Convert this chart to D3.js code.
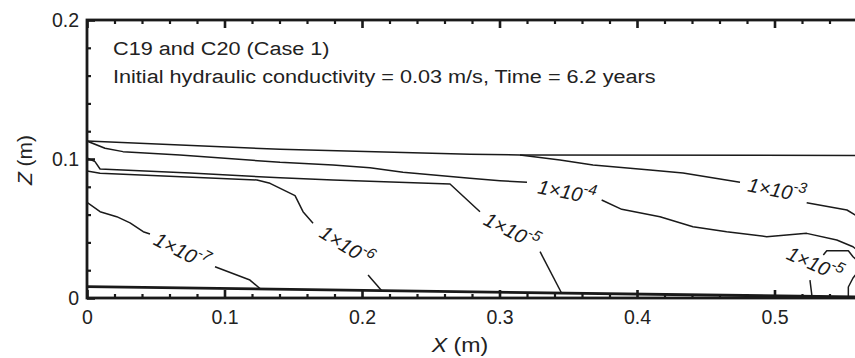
<!DOCTYPE html>
<html>
<head>
<meta charset="utf-8">
<script src="https://cdn.jsdelivr.net/npm/d3@7"></script>
<style>
  html, body { margin: 0; padding: 0; background: #fff; overflow: hidden; }
  svg { display: block; font-family: "Liberation Sans", Arial, Helvetica, sans-serif; }
</style>
</head>
<body>
<svg id="chart" width="855" height="358"></svg>
<script>
// Axis ticks
const xTicks = [0, 0.1, 0.2, 0.3, 0.4, 0.5];
const zTicks = [0, 0.1, 0.2];
const xMinorStep = 0.02;
const zMinorStep = 0.02;

// Annotation text
const titleLines = ["C19 and C20 (Case 1)", "Initial hydraulic conductivity = 0.03 m/s, Time = 6.2 years"];

// Contour lines, [x, z] in metres, one array per drawn piece (gaps hold labels)
const level7a = [[0, 0.0688], [0.0095, 0.0621], [0.0216, 0.0585], [0.0313, 0.0540], [0.0409, 0.0477], [0.0458, 0.0460]];
const level7b = [[0.0931, 0.0225], [0.1185, 0.0129], [0.1258, 0.0068]];
const level6a = [[0, 0.0914], [0.0095, 0.0897], [0.1236, 0.0849], [0.1331, 0.0825], [0.1513, 0.0736], [0.1571, 0.0621], [0.1644, 0.0537]];
const level6b = [[0.2044, 0.0165], [0.2145, 0.0050]];
const level5a = [[0, 0.1007], [0.0058, 0.0981], [0.0095, 0.0928], [0.0749, 0.0899], [0.1404, 0.0865], [0.1789, 0.0849], [0.2640, 0.0820], [0.2858, 0.0621]];
const level5b = [[0.3295, 0.0333], [0.3452, 0.0034]];
const level5c = [[0.5258, 0.0129], [0.5273, 0.0007]];
const level5d = [[0.5355, 0.0309], [0.5380, 0.0340], [0.5537, 0.0340], [0.5571, 0.0297], [0.56, 0.0270]];
const level5e = [[0.56, 0.0180], [0.5571, 0.0144], [0.5537, 0.0079], [0.5537, 0.0007]];
const level4a = [[0, 0.1129], [0.0131, 0.1077], [0.0262, 0.1053], [0.0676, 0.1029], [0.1404, 0.0976], [0.1789, 0.0957],
                 [0.2058, 0.0937], [0.2298, 0.0904], [0.2785, 0.0861], [0.3004, 0.0844], [0.3200, 0.0832]];
const level4b = [[0.3743, 0.0705], [0.3889, 0.0638], [0.4167, 0.0585], [0.4407, 0.0513], [0.4652, 0.0477], [0.4943, 0.0441],
                 [0.5234, 0.0465], [0.5453, 0.0417], [0.5571, 0.0369], [0.56, 0.0345]];
const level3a = [[0.3149, 0.1029], [0.3440, 0.0993], [0.3680, 0.0957], [0.4095, 0.0921], [0.4335, 0.0899], [0.4749, 0.0832]];
const level3b = [[0.5234, 0.0686], [0.5527, 0.0633], [0.56, 0.0590]];
const upperBoundary = [[0, 0.1129], [0.1404, 0.1070], [0.2785, 0.1034], [0.3149, 0.1029], [0.56, 0.1025]];
const lowerBoundary = [[0, 0.0082], [0.56, 0.0007]];

// Contour labels: exponent of 1x10^n, position (m) and text angle (deg)
const labelExp   = [-7, -6, -5, -4, -3, -5];
const labelX     = [0.0691, 0.1891, 0.3091, 0.3491, 0.5018, 0.5295];
const labelZ     = [0.0345, 0.0381, 0.0489, 0.0770, 0.0784, 0.0252];
const labelAngle = [27, 32, 27, 11, 11, 24];

const contourPieces = [level7a, level7b, level6a, level6b, level5a, level5b, level5c, level5d, level5e,
                       level4a, level4b, level3a, level3b, upperBoundary];

// Layout
const width = 855, height = 358;
const margin = {top: 20, right: -2, bottom: 60, left: 87};
const ink = "#1a1a1a";

const svg = d3.select("#chart");

const x = d3.scaleLinear().domain([0, 0.56]).range([margin.left, width - margin.right]);
const z = d3.scaleLinear().domain([0, 0.2]).range([height - margin.bottom, margin.top]);

const line = d3.line().x(d => x(d[0])).y(d => z(d[1]));

// clip to plot area
svg.append("clipPath").attr("id", "plotClip")
  .append("rect")
    .attr("x", x(0)).attr("y", z(0.2))
    .attr("width", x(0.56) - x(0)).attr("height", z(0) - z(0.2));

const plot = svg.append("g").attr("clip-path", "url(#plotClip)");

plot.append("g")
  .selectAll("path")
  .data(contourPieces)
  .join("path")
    .attr("d", line)
    .attr("fill", "none")
    .attr("stroke", ink)
    .attr("stroke-width", 1.5)
    .attr("stroke-linejoin", "round");

plot.append("path")
  .datum(lowerBoundary)
  .attr("d", line)
  .attr("fill", "none")
  .attr("stroke", ink)
  .attr("stroke-width", 2.8);

// Contour labels
plot.append("g")
  .selectAll("text")
  .data(d3.range(labelExp.length))
  .join("text")
    .attr("transform", i => `translate(${x(labelX[i])},${z(labelZ[i])}) rotate(${labelAngle[i]})`)
    .attr("text-anchor", "middle")
    .attr("dy", "0.4em")
    .attr("fill", ink)
    .style("font-style", "italic")
    .style("font-size", "20px")
    .call(t => {
      t.append("tspan").text("1×10");
      t.append("tspan")
        .attr("dy", "-0.6em")
        .style("font-size", "15px")
        .text(i => labelExp[i]);
    });

// Axes: inward ticks, major and minor
const isMajor = v => Math.abs(v * 10 - Math.round(v * 10)) < 1e-6;
const xMinor = d3.range(0, 0.5601, xMinorStep).filter(v => !isMajor(v));
const zMinor = d3.range(0, 0.2001, zMinorStep).filter(v => !isMajor(v));

const styleTicks = (g, w) => {
  g.select(".domain").remove();
  g.selectAll(".tick line").attr("stroke", ink).attr("stroke-width", w);
  g.selectAll(".tick text").attr("fill", "#222").style("font-size", "19.5px").style("font-family", null);
};

svg.append("g")
  .attr("transform", `translate(0,${z(0)})`)
  .call(d3.axisBottom(x).tickValues(xTicks).tickSize(-8).tickPadding(12).tickFormat(d3.format("")))
  .call(g => styleTicks(g, 2.6));
svg.append("g")
  .attr("transform", `translate(0,${z(0)})`)
  .call(d3.axisBottom(x).tickValues(xMinor).tickSize(-4).tickFormat(""))
  .call(g => styleTicks(g, 2.2));
svg.append("g")
  .attr("transform", `translate(0,${z(0.2)})`)
  .call(d3.axisTop(x).tickValues(xTicks).tickSize(-8).tickFormat(""))
  .call(g => styleTicks(g, 2.6));
svg.append("g")
  .attr("transform", `translate(0,${z(0.2)})`)
  .call(d3.axisTop(x).tickValues(xMinor).tickSize(-4).tickFormat(""))
  .call(g => styleTicks(g, 2.2));
svg.append("g")
  .attr("transform", `translate(${x(0)},0)`)
  .call(d3.axisLeft(z).tickValues(zTicks).tickSize(-8).tickPadding(8).tickFormat(d3.format("")))
  .call(g => styleTicks(g, 2.6));
svg.append("g")
  .attr("transform", `translate(${x(0)},0)`)
  .call(d3.axisLeft(z).tickValues(zMinor).tickSize(-4).tickFormat(""))
  .call(g => styleTicks(g, 2.2));

// Frame
svg.append("rect")
  .attr("x", x(0)).attr("y", z(0.2))
  .attr("width", x(0.56) - x(0)).attr("height", z(0) - z(0.2))
  .attr("fill", "none")
  .attr("stroke", ink)
  .attr("stroke-width", 2.8);

// Annotation (the source figure is slightly stretched horizontally)
svg.append("g")
  .selectAll("text")
  .data(titleLines)
  .join("text")
    .attr("transform", (d, i) => `translate(${x(0) + 26},${55 + i * 28}) scale(1.14,1)`)
    .attr("fill", "#222")
    .style("font-size", "19px")
    .text(d => d);

// Axis titles
const xTitle = svg.append("text")
  .attr("transform", `translate(${(x(0) + x(0.56)) / 2 - 12},352) scale(1.1,1)`)
  .attr("text-anchor", "middle")
  .attr("fill", "#222")
  .style("font-size", "21px");
xTitle.append("tspan").style("font-style", "italic").text("X");
xTitle.append("tspan").text(" (m)");

const zTitle = svg.append("text")
  .attr("transform", `translate(32,${(z(0) + z(0.2)) / 2 + 1}) rotate(-90)`)
  .attr("text-anchor", "middle")
  .attr("fill", "#222")
  .style("font-size", "21px");
zTitle.append("tspan").style("font-style", "italic").text("Z");
zTitle.append("tspan").text(" (m)");
</script>
</body>
</html>
